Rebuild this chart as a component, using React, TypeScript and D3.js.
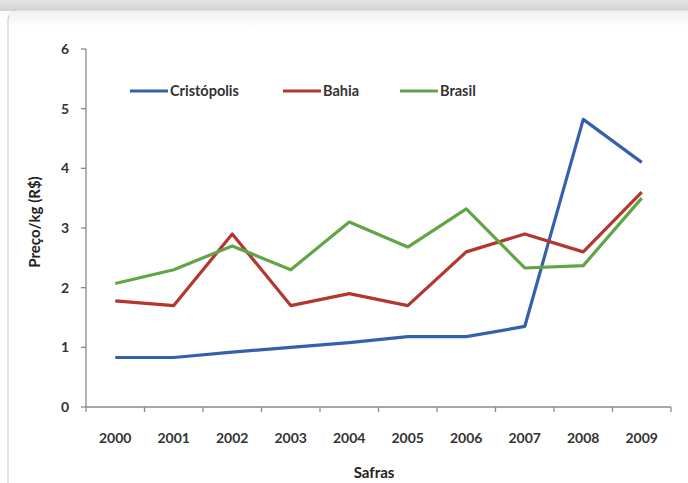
import React from "react";
import * as d3 from "d3";

const safras = ["2000", "2001", "2002", "2003", "2004", "2005", "2006", "2007", "2008", "2009"];
const cristopolis = [0.83, 0.83, 0.92, 1.0, 1.08, 1.18, 1.18, 1.35, 4.82, 4.1];
const bahia = [1.78, 1.7, 2.9, 1.7, 1.9, 1.7, 2.6, 2.9, 2.6, 3.6];
const brasil = [2.07, 2.3, 2.7, 2.3, 3.1, 2.68, 3.32, 2.33, 2.37, 3.5];
const yTicks = [0, 1, 2, 3, 4, 5, 6];

const series = [
  { name: "Cristópolis", values: cristopolis, color: "#3561AC" },
  { name: "Bahia", values: bahia, color: "#B3362F" },
  { name: "Brasil", values: brasil, color: "#62A546" },
];

const W = 688;
const H = 483;
const font = "Lato, 'Open Sans', sans-serif";

const App = () => {
  const x = d3.scaleBand().domain(safras).range([86, 671]);
  const y = d3.scaleLinear().domain([0, 6]).range([407, 49]);
  const line = d3
    .line<number>()
    .x((d, i) => (x(safras[i]) as number) + x.bandwidth() / 2)
    .y((d) => y(d));

  const legendX = [130, 283, 400];
  const boundaries = safras.map((s) => x(s) as number).concat([671]);

  return (
    <svg width={W} height={H} style={{ position: "fixed", left: 0, top: 0 }}>
      <defs>
        <linearGradient id="topbar" x1="0" y1="0" x2="0" y2="1">
          <stop offset="0" stopColor="#e4e4e4" />
          <stop offset="1" stopColor="#d2d2d2" />
        </linearGradient>
        <linearGradient id="cardTop" x1="0" y1="0" x2="0" y2="1">
          <stop offset="0" stopColor="#f0f0f0" />
          <stop offset="1" stopColor="#ffffff" />
        </linearGradient>
      </defs>
      <rect x={0} y={0} width={W} height={H} fill="#ffffff" />
      <rect x={0} y={0} width={W} height={11} fill="url(#topbar)" />
      <rect x={8} y={10} width={W + 20} height={H + 20} rx={9} fill="#ffffff" stroke="#c8c8c8" strokeWidth={1} />
      <rect x={9} y={11} width={W} height={16} fill="url(#cardTop)" />

      {/* y axis */}
      <line x1={86} x2={86} y1={y(6)} y2={y(0)} stroke="#8a8a8a" strokeWidth={1.3} />
      {yTicks.map((t) => (
        <g key={t}>
          <line x1={81} x2={86} y1={y(t)} y2={y(t)} stroke="#8a8a8a" strokeWidth={1.3} />
          <text x={69} y={y(t)} dy="0.35em" textAnchor="end" fontFamily={font} fontWeight={700} fontSize={14} fill="#333">
            {t}
          </text>
        </g>
      ))}

      {/* x axis */}
      <line x1={86} x2={671} y1={407} y2={407} stroke="#8a8a8a" strokeWidth={1.3} />
      {boundaries.map((b, i) => (
        <line key={i} x1={b} x2={b} y1={407} y2={412} stroke="#8a8a8a" strokeWidth={1.3} />
      ))}
      {safras.map((s) => (
        <text key={s} x={(x(s) as number) + x.bandwidth() / 2} y={438} dy="0.35em" textAnchor="middle" fontFamily={font} fontWeight={700} fontSize={14} fill="#333">
          {s}
        </text>
      ))}

      <text x={374} y={473} dy="0.35em" textAnchor="middle" fontFamily={font} fontWeight={700} fontSize={15} fill="#222">
        Safras
      </text>
      <text transform={`translate(35,222) rotate(-90)`} dy="0.35em" textAnchor="middle" fontFamily={font} fontWeight={700} fontSize={15} fill="#222">
        Preço/kg (R$)
      </text>

      {series.map((s) => (
        <path key={s.name} d={line(s.values) || ""} fill="none" stroke={s.color} strokeWidth={3.2} strokeLinejoin="round" />
      ))}

      {series.map((s, i) => (
        <g key={s.name}>
          <line x1={legendX[i]} x2={legendX[i] + 38} y1={91} y2={91} stroke={s.color} strokeWidth={3.2} />
          <text x={legendX[i] + 40} y={91} dy="0.35em" fontFamily={font} fontWeight={700} fontSize={14.5} fill="#333">
            {s.name}
          </text>
        </g>
      ))}
    </svg>
  );
};

export default App;
